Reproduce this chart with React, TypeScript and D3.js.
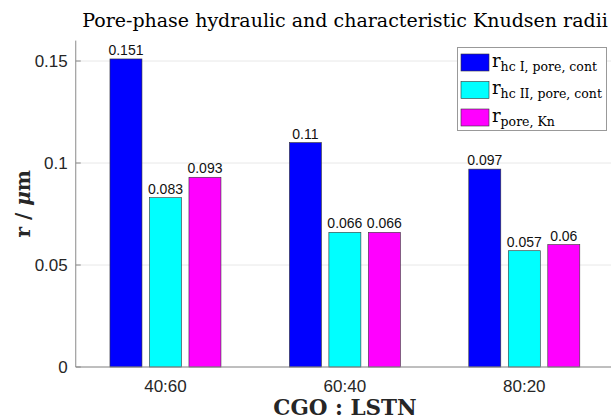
import React from "react";
import * as d3 from "d3";

const categories = ["40:60", "60:40", "80:20"];
const seriesKeys = ["hcI", "hcII", "Kn"];
const hcI = [0.151, 0.11, 0.097];
const hcII = [0.083, 0.066, 0.057];
const kn = [0.093, 0.066, 0.06];
const seriesValues = [hcI, hcII, kn];
const seriesColors = ["#0000ff", "#00ffff", "#ff00ff"];
const legendSubs = ["hc I, pore, cont", "hc II, pore, cont", "pore, Kn"];
const yTicks = [0, 0.05, 0.1, 0.15];

const W = 611;
const H = 420;
const left = 75.75;
const right = 614;
const top = 40.6;
const bottom = 367;

export default function App() {
  const x = d3.scaleBand<string>().domain(categories).range([left, right]).paddingInner(0).paddingOuter(0);
  const half = 59.25;
  const xs = d3.scaleBand<string>().domain(seriesKeys).range([-half, half]).paddingInner(0.19).paddingOuter(0.095);
  const y = d3.scaleLinear().domain([0, 0.16]).range([bottom, top]);
  const sans = "'Liberation Sans', Arial, sans-serif";
  const serif = "'DejaVu Serif', serif";

  return (
    <svg width={W} height={H} style={{ position: "absolute", left: 0, top: 0, background: "#fff" }}>
      <rect x={0} y={0} width={W} height={H} fill="#fff" />
      {yTicks.map((t) => (
        <line key={"g" + t} x1={left} x2={W} y1={y(t)} y2={y(t)} stroke="#e8e8e8" strokeWidth={1} />
      ))}
      {categories.map((c, i) => {
        const cx = (x(c) as number) + x.bandwidth() / 2;
        return (
          <g key={c}>
            {seriesKeys.map((k, j) => {
              const v = seriesValues[j][i];
              const bx = cx + (xs(k) as number);
              return (
                <g key={k}>
                  <rect x={bx} y={y(v)} width={xs.bandwidth()} height={y(0) - y(v)} fill={seriesColors[j]} stroke="#333" strokeWidth={0.6} />
                  <text x={bx + xs.bandwidth() / 2} y={y(v) - 4} textAnchor="middle" fontFamily={sans} fontSize={14} fill="#111">
                    {String(v)}
                  </text>
                </g>
              );
            })}
          </g>
        );
      })}
      <line x1={left} x2={left} y1={top} y2={bottom} stroke="#8a8a8a" strokeWidth={1} />
      <line x1={left} x2={W} y1={bottom} y2={bottom} stroke="#8a8a8a" strokeWidth={1} />
      {yTicks.map((t) => (
        <g key={"t" + t}>
          <line x1={left} x2={left + 5} y1={y(t)} y2={y(t)} stroke="#8a8a8a" />
          <text x={left - 8} y={y(t)} dy="0.36em" textAnchor="end" fontFamily={sans} fontSize={17} fill="#262626">
            {String(t)}
          </text>
        </g>
      ))}
      {categories.map((c) => (
        <text key={"x" + c} x={(x(c) as number) + x.bandwidth() / 2} y={392} textAnchor="middle" fontFamily={sans} fontSize={17} fill="#262626">
          {c}
        </text>
      ))}
      <text x={345} y={415} textAnchor="middle" fontFamily={serif} fontWeight="bold" fontSize={21.5} fill="#262626">
        CGO : LSTN
      </text>
      <text transform={`translate(30,${(top + bottom) / 2}) rotate(-90)`} textAnchor="middle" fontFamily={serif} fontWeight="bold" fontSize={20} fill="#262626">
        r / <tspan fontStyle="italic">μ</tspan>m
      </text>
      <text x={345} y={27} textAnchor="middle" fontFamily={serif} fontSize={19} fill="#000">
        Pore-phase hydraulic and characteristic Knudsen radii
      </text>
      <rect x={457.5} y={47.5} width={149} height={83} fill="#fff" stroke="#999" strokeWidth={1} />
      {seriesKeys.map((k, j) => {
        const cy = 62.5 + j * 27.5;
        return (
          <g key={"l" + k}>
            <rect x={461} y={cy - 8.5} width={28} height={17} fill={seriesColors[j]} stroke="#333" strokeWidth={0.6} />
            <text x={492} y={cy + 4} fontFamily={serif} fontSize={18} fill="#000">
              r
              <tspan fontSize={12.5} dy={4}>{legendSubs[j]}</tspan>
            </text>
          </g>
        );
      })}
    </svg>
  );
}
